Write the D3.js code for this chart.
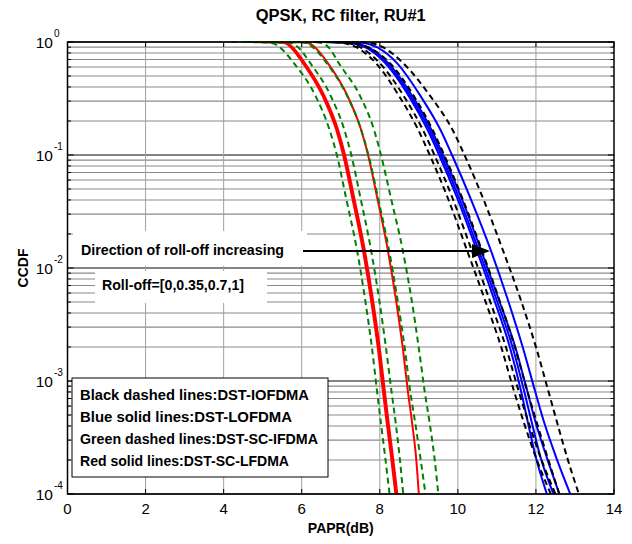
<!DOCTYPE html>
<html>
<head>
<meta charset="utf-8">
<script src="https://cdn.jsdelivr.net/npm/d3@7"></script>
<style>
  html, body { margin: 0; padding: 0; background: #fff; }
  svg { display: block; }
  text { font-family: "Liberation Sans Narrow", "Arial Narrow", "Liberation Sans", Arial, sans-serif; }
</style>
</head>
<body>
<svg id="chart" width="632" height="544"></svg>
<script>
// ---------------- data ----------------
const titleText = "QPSK, RC filter, RU#1";
const xLabel = "PAPR(dB)";
const yLabel = "CCDF";
const xTicks = [0, 2, 4, 6, 8, 10, 12, 14];
const yTickExps = [0, -1, -2, -3, -4];

// shared CCDF levels (y values) for every curve
const ccdfLevels = [1, 0.995, 0.975, 0.89, 0.65, 0.33, 0.168, 0.1, 0.041, 0.0148, 0.00537, 0.00195, 0.00081, 0.00042, 0.00021, 0.0001];

// PAPR (dB) at each CCDF level, one array per roll-off
const redLFDMA = [
  [4.8, 5.38, 5.58, 5.73, 6.03, 6.54, 6.88, 7.06, 7.30, 7.56, 7.77, 7.95, 8.08, 8.18, 8.29, 8.40],
  [4.8, 5.40, 5.60, 5.75, 6.05, 6.56, 6.90, 7.08, 7.32, 7.58, 7.79, 7.97, 8.10, 8.20, 8.31, 8.42],
  [4.8, 5.43, 5.63, 5.78, 6.08, 6.59, 6.93, 7.11, 7.35, 7.61, 7.82, 8.00, 8.13, 8.23, 8.34, 8.45],
  [5.2, 5.95, 6.18, 6.35, 6.67, 7.18, 7.52, 7.70, 7.94, 8.20, 8.41, 8.59, 8.72, 8.83, 8.93, 9.00]
];
const greenIFDMA = [
  [4.2, 4.95, 5.25, 5.45, 5.80, 6.36, 6.71, 6.90, 7.14, 7.41, 7.62, 7.80, 7.93, 8.03, 8.14, 8.25],
  [4.6, 5.50, 5.75, 5.92, 6.22, 6.75, 7.09, 7.27, 7.51, 7.77, 7.98, 8.16, 8.30, 8.41, 8.51, 8.60],
  [5.2, 5.90, 6.12, 6.30, 6.64, 7.17, 7.52, 7.71, 7.96, 8.23, 8.45, 8.64, 8.78, 8.91, 9.04, 9.17],
  [5.6, 6.30, 6.52, 6.70, 6.95, 7.50, 7.85, 8.03, 8.29, 8.58, 8.81, 9.00, 9.15, 9.28, 9.40, 9.50]
];
const blueLOFDMA = [
  [6.6, 7.00, 7.30, 7.65, 8.14, 8.75, 9.22, 9.52, 9.99, 10.47, 10.92, 11.34, 11.62, 11.80, 12.00, 12.28],
  [6.6, 7.03, 7.33, 7.68, 8.18, 8.79, 9.27, 9.57, 10.04, 10.52, 10.98, 11.41, 11.70, 11.90, 12.12, 12.45],
  [6.7, 7.06, 7.37, 7.72, 8.22, 8.84, 9.32, 9.62, 10.10, 10.58, 11.04, 11.48, 11.78, 12.00, 12.28, 12.60],
  [7.0, 7.40, 7.65, 7.95, 8.44, 9.05, 9.55, 9.85, 10.33, 10.83, 11.27, 11.67, 11.98, 12.22, 12.52, 12.88]
];
const blackIOFDMA = [
  [6.3, 6.80, 7.10, 7.42, 7.90, 8.50, 8.98, 9.28, 9.75, 10.22, 10.68, 11.12, 11.44, 11.70, 12.00, 12.38],
  [6.4, 6.90, 7.20, 7.52, 8.00, 8.62, 9.10, 9.40, 9.87, 10.34, 10.80, 11.24, 11.56, 11.82, 12.12, 12.50],
  [6.6, 7.10, 7.40, 7.72, 8.26, 8.88, 9.35, 9.65, 10.12, 10.60, 11.05, 11.47, 11.78, 12.03, 12.30, 12.60],
  [7.0, 7.50, 7.80, 8.10, 8.60, 9.30, 9.86, 10.17, 10.65, 11.14, 11.60, 12.01, 12.32, 12.55, 12.80, 13.10]
];

const legendLines = [
  "Black dashed lines:DST-IOFDMA",
  "Blue solid lines:DST-LOFDMA",
  "Green dashed lines:DST-SC-IFDMA",
  "Red solid lines:DST-SC-LFDMA"
];
const arrowText = "Direction of roll-off increasing";
const rollOffText = "Roll-off=[0,0.35,0.7,1]";

// ---------------- layout ----------------
const svg = d3.select("#chart");
const L = 67.5, R = 614, T = 42, B = 494;
const x = d3.scaleLinear().domain([0, 14]).range([L, R]);
const y = d3.scaleLog().domain([1e-4, 1]).range([B, T]);

// grid
const grid = svg.append("g");
const minorVals = [];
for (let e = -4; e < 0; e++) for (let m = 2; m <= 9; m++) minorVals.push(m * Math.pow(10, e));
grid.selectAll("line.hmin").data(minorVals).enter().append("line")
  .attr("x1", L).attr("x2", R).attr("y1", d => y(d)).attr("y2", d => y(d))
  .attr("stroke", "#8a8a8a").attr("stroke-width", 1.1);
grid.selectAll("line.hmaj").data(yTickExps.map(e => Math.pow(10, e))).enter().append("line")
  .attr("x1", L).attr("x2", R).attr("y1", d => y(d)).attr("y2", d => y(d))
  .attr("stroke", "#5a5a5a").attr("stroke-width", 1.6);
grid.selectAll("line.v").data(xTicks.slice(1, -1)).enter().append("line")
  .attr("x1", d => x(d)).attr("x2", d => x(d)).attr("y1", T).attr("y2", B)
  .attr("stroke", "#a0a0a0").attr("stroke-width", 1);

// annotation boxes (white, cover gridlines)
svg.append("rect").attr("x", 73).attr("y", 231).attr("width", 234).attr("height", 35).attr("fill", "#fff");
svg.append("rect").attr("x", 95).attr("y", 271).attr("width", 172).attr("height", 32).attr("fill", "#fff");

// curves
svg.append("clipPath").attr("id", "clip").append("rect")
  .attr("x", L).attr("y", T - 1).attr("width", R - L).attr("height", B - T + 1);
const plot = svg.append("g").attr("clip-path", "url(#clip)");
const line = d3.line().x(d => x(d[0])).y(d => y(d[1])).curve(d3.curveMonotoneX);
function drawSet(set, color, width, dash) {
  set.forEach(arr => {
    const pts = arr.map((v, i) => [v, ccdfLevels[i]]);
    plot.append("path").attr("d", line(pts)).attr("fill", "none")
      .attr("stroke", color).attr("stroke-width", width)
      .attr("stroke-dasharray", dash || null).attr("stroke-linejoin", "round");
  });
}
drawSet(redLFDMA, "#ff0000", 2);
drawSet(blueLOFDMA, "#0000ff", 2);
drawSet(greenIFDMA, "#008000", 2, "6,4");
drawSet(blackIOFDMA, "#000000", 2, "6,4");

// axes box + ticks
const ax = svg.append("g");
ax.append("rect").attr("x", L).attr("y", T).attr("width", R - L).attr("height", B - T)
  .attr("fill", "none").attr("stroke", "#000").attr("stroke-width", 1.5);
const tk = 5;
xTicks.forEach(v => {
  ax.append("line").attr("x1", x(v)).attr("x2", x(v)).attr("y1", B).attr("y2", B - tk).attr("stroke", "#000");
  ax.append("line").attr("x1", x(v)).attr("x2", x(v)).attr("y1", T).attr("y2", T + tk).attr("stroke", "#000");
  ax.append("text").attr("x", x(v)).attr("y", 514).attr("text-anchor", "middle")
    .attr("font-size", 15).text(v);
});
const allY = minorVals.concat(yTickExps.map(e => Math.pow(10, e)));
allY.forEach(v => {
  const major = Math.abs(Math.log10(v) - Math.round(Math.log10(v))) < 1e-9;
  const len = major ? 6 : 3.5;
  ax.append("line").attr("x1", L).attr("x2", L + len).attr("y1", y(v)).attr("y2", y(v)).attr("stroke", "#000");
  ax.append("line").attr("x1", R).attr("x2", R - len).attr("y1", y(v)).attr("y2", y(v)).attr("stroke", "#000");
});
yTickExps.forEach(e => {
  const yy = y(Math.pow(10, e));
  ax.append("text").attr("x", 53).attr("y", yy + 5.5).attr("text-anchor", "end")
    .attr("font-size", 15.5).text("10");
  ax.append("text").attr("x", 54).attr("y", yy - 5.5).attr("text-anchor", "start")
    .attr("font-size", 10).text(String(e));
});

// titles
svg.append("text").attr("x", (L + R) / 2).attr("y", 21).attr("text-anchor", "middle")
  .attr("font-size", 16).attr("font-weight", "bold")
  .attr("textLength", 170).attr("lengthAdjust", "spacingAndGlyphs").text(titleText);
svg.append("text").attr("x", (L + R) / 2).attr("y", 533).attr("text-anchor", "middle")
  .attr("font-size", 14).attr("font-weight", "bold").text(xLabel);
svg.append("text").attr("transform", `translate(28,${(T + B) / 2}) rotate(-90)`).attr("text-anchor", "middle")
  .attr("font-size", 14).attr("font-weight", "bold").text(yLabel);

// annotation
svg.append("text").attr("x", 81).attr("y", 255).attr("font-size", 15).attr("font-weight", "bold")
  .attr("font-family", "Liberation Sans, Arial, sans-serif")
  .attr("textLength", 203).attr("lengthAdjust", "spacingAndGlyphs").text(arrowText);
svg.append("text").attr("x", 102).attr("y", 290).attr("font-size", 15).attr("font-weight", "bold")
  .attr("font-family", "Liberation Sans, Arial, sans-serif")
  .attr("textLength", 142).attr("lengthAdjust", "spacingAndGlyphs").text(rollOffText);
svg.append("line").attr("x1", 303).attr("x2", 480).attr("y1", 251).attr("y2", 251)
  .attr("stroke", "#000").attr("stroke-width", 2);
svg.append("path").attr("d", "M472,244 L490,251 L472,258 Z").attr("fill", "#000");

// legend box
const lg = svg.append("g");
lg.append("rect").attr("x", 72).attr("y", 378).attr("width", 256).attr("height", 99)
  .attr("fill", "#fff").attr("stroke", "#000").attr("stroke-width", 1);
const legendWidths = [229, 212, 238, 209];
legendLines.forEach((t, i) => {
  lg.append("text").attr("x", 80).attr("y", 400 + i * 22).attr("font-size", 15).attr("font-weight", "bold")
    .attr("font-family", "Liberation Sans, Arial, sans-serif")
    .attr("textLength", legendWidths[i]).attr("lengthAdjust", "spacingAndGlyphs").text(t);
});
</script>
</body>
</html>
